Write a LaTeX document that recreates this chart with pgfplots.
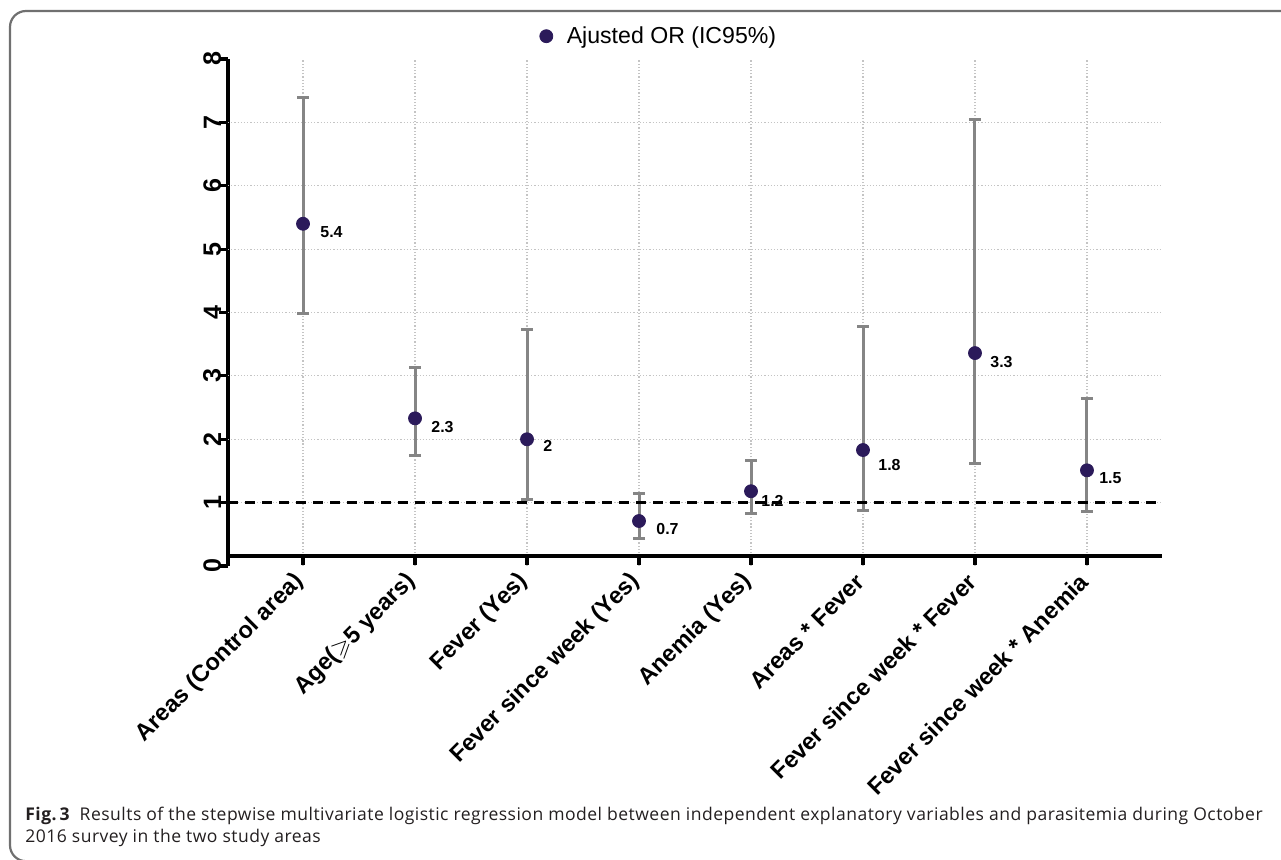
\documentclass[border=0pt]{standalone}
\usepackage{pgfplots}
\pgfplotsset{compat=1.18}
\usepackage{pgfplotstable}
\usepackage{amssymb}
\usepackage{fontspec}
\setmainfont{Liberation Sans}
\newfontfamily\capfont[LetterSpace=2.7]{Open Sans}
\definecolor{ptcol}{HTML}{2B1A5A}
\definecolor{barcol}{HTML}{858585}
\definecolor{framecol}{HTML}{707070}
\definecolor{gridcol}{HTML}{C4C4C4}
\definecolor{capcol}{HTML}{231F20}

\pgfplotstableread{
x y ep em lab dx dy
0 5.40 2.00 1.42 5.4 8.5 -4
1 2.33 0.81 0.59 2.3 8 -4.5
2 2.00 1.73 0.95 2 8 -3.5
3 0.71 0.43 0.27 0.7 8.5 -4
4 1.18 0.49 0.35 1.2 5 -5
5 1.83 1.95 0.95 1.8 7.5 -7.5
6 3.36 3.68 1.74 3.3 7.5 -4.5
7 1.51 1.14 0.65 1.5 6 -4
}\datatable

\begin{document}
\begin{tikzpicture}
\useasboundingbox (0,0) rectangle (640.5bp,-430bp);
\draw[framecol, line width=1.1bp, rounded corners=8bp] (5bp,-5.5bp) rectangle (700bp,-430.6bp);
\begin{axis}[
  at={(114bp,-283bp)}, anchor=south west,
  scale only axis, width=467bp, height=253.5bp,
  xmin=-0.67, xmax=7.67, ymin=0, ymax=8,
  axis y line=left, axis x line=bottom,
  axis line style={-, line width=1.7bp, black},
  x axis line style={yshift=5bp},
  tick align=outside,
  major tick length=4.5bp,
  tick style={line width=1.6bp, black},
  xtick style={yshift=5bp},
  /pgf/number format/assume math mode=true,
  ytick={0,1,...,8},
  yticklabel style={xshift=1.2bp, rotate=90, anchor=south, inner sep=0pt, font=\bfseries\fontsize{12.6}{12.6}\selectfont},
  extra y ticks={1,2,...,7},
  extra y tick labels={},
  extra y tick style={grid=major, major tick length=0pt},
  major grid style={gridcol, line width=0.6bp, densely dotted},
  xmajorgrids=true,
  xtick={0,...,7},
  xticklabels={Areas (Control area), Age($\geqslant$5 years), Fever (Yes), Fever since week (Yes), Anemia (Yes), Areas * Fever, Fever since week * Fever, Fever since week * Anemia},
  xticklabel style={rotate=45, anchor=east, inner sep=2pt, font=\bfseries\fontsize{11.8}{12}\selectfont},
  legend style={at={(0.4625,1.045)}, anchor=center, draw=none, fill=none, inner sep=0pt, font=\fontsize{11.6}{12}\selectfont},
  legend cell align=left,
]
\addplot[only marks, mark=*, mark size=3.25bp, mark options={fill=ptcol, draw=ptcol},
  nodes near coords, point meta=explicit symbolic,
  visualization depends on={\thisrow{dx} \as \dx},
  visualization depends on={\thisrow{dy} \as \dy},
  nodes near coords style={anchor=west, inner sep=0pt, black, font=\bfseries\fontsize{8}{8}\selectfont, xshift=\dx bp, yshift=\dy bp},
  error bars/.cd, y dir=both, y explicit,
  error bar style={barcol, line width=1.5bp},
  error mark options={rotate=90, barcol, line width=1.5bp, mark size=3bp}]
  table[x=x, y=y, y error plus=ep, y error minus=em, meta=lab]{\datatable};
\addlegendentry{\hspace{5bp}Ajusted OR (IC95\%)}
\addplot[black, line width=1.5bp, dash pattern=on 5bp off 3.5bp, forget plot] coordinates {(-0.67,1) (7.67,1)};
\end{axis}
\node[anchor=base west, inner sep=0pt, text=capcol, font=\capfont\fontsize{8.8}{11}\selectfont] at (12.5bp,-410bp) {\textbf{Fig.\,3}\hspace{0.55em}Results of the stepwise multivariate logistic regression model between independent explanatory variables and parasitemia during October};
\node[anchor=base west, inner sep=0pt, text=capcol, font=\capfont\fontsize{8.8}{11}\selectfont] at (12.5bp,-421bp) {2016 survey in the two study areas};
\end{tikzpicture}
\end{document}
